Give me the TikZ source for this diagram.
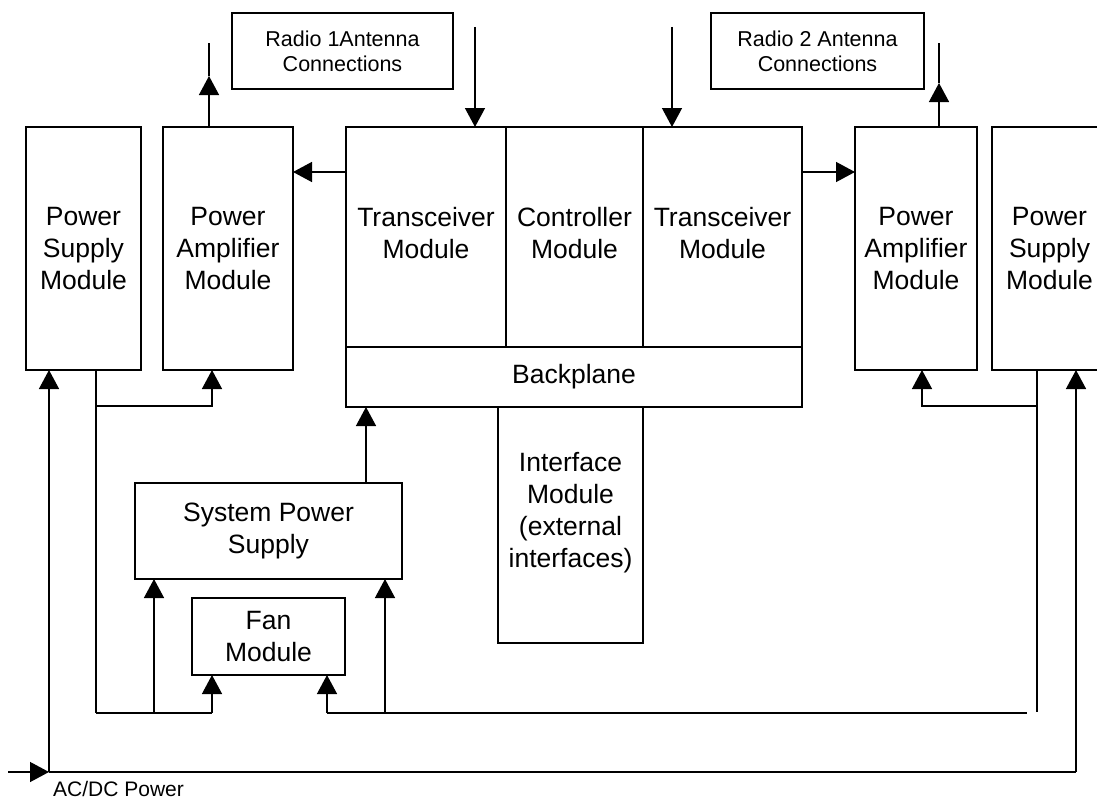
\documentclass[tikz,border=0pt]{standalone}
\usepackage{fontspec}
\setmainfont{Liberation Sans}
\usetikzlibrary{arrows.meta}
\begin{document}
\begin{tikzpicture}[x=1pt,y=-1pt,
  box/.style={draw,line width=1.4pt,rectangle,inner sep=0pt,outer sep=0pt,align=center,
    font=\fontsize{26.5}{32}\selectfont},
  txt/.style={inner sep=0pt,align=center,font=\fontsize{26.5}{32}\selectfont},
  smallbox/.style={box,font=\fontsize{21.5}{25}\selectfont},
  wire/.style={line width=1.4pt},
  arr/.style={wire,-{Triangle[width=20pt,length=19pt]}}]
\useasboundingbox (0,0) rectangle (1097,800);
% antenna label boxes
\node[smallbox,minimum width=221,minimum height=76] (r1) at (342.5,51) {Radio 1Antenna\\Connections};
\node[smallbox,minimum width=213,minimum height=76] (r2) at (817.5,51) {Radio 2 Antenna\\Connections};
% side modules
\node[box,minimum width=115,minimum height=243] (psuL) at (83.5,248.5) {Power\\Supply\\Module};
\node[box,minimum width=130,minimum height=243] (paL) at (228,248.5) {Power\\Amplifier\\Module};
\node[box,minimum width=122,minimum height=243] (paR) at (916,248.5) {Power\\Amplifier\\Module};
\node[box,minimum width=115,minimum height=243] (psuR) at (1049.5,248.5) {Power\\Supply\\Module};
% main chassis
\node[box,minimum width=160,minimum height=220] (trL) at (426,237) {};
\node[txt] (trLt) at (426,233) {Transceiver\\Module};
\node[box,minimum width=137,minimum height=220] (ctl) at (574.5,237) {};
\node[txt] (ctlt) at (574.5,233) {Controller\\Module};
\node[box,minimum width=159,minimum height=220] (trR) at (722.5,237) {};
\node[txt] (trRt) at (722.5,233) {Transceiver\\Module};
\node[box,minimum width=456,minimum height=60] (bp) at (574,377) {Backplane};
\node[box,minimum width=145,minimum height=236] (ifc) at (570.5,525) {};
\node[txt] (ifct) at (570.5,513) {Interface\\Module\\(external\\interfaces)};
% power
\node[box,minimum width=267,minimum height=96] (sps) at (268.5,531) {System Power\\Supply};
\node[box,minimum width=153,minimum height=77] (fan) at (268.5,636.5) {Fan\\Module};
\node[inner sep=0pt,anchor=base west,font=\fontsize{21}{25}\selectfont] (acdc) at (53,796) {AC/DC Power};
% coordinates
\coordinate (a1top) at (475,27);
\coordinate (a2top) at (672,27);
\coordinate (antL) at (209,43);
\coordinate (antLm) at (209,76);
\coordinate (antR) at (939,43);
\coordinate (antRm) at (939,83);
\coordinate (acin) at (8,772);
\coordinate (acj) at (49,772);
\coordinate (acr) at (1076,772);
\coordinate (lpsuj) at (96,406);
\coordinate (lbusL) at (96,713);
\coordinate (lbusR) at (212,713);
\coordinate (lbusM) at (154,713);
\coordinate (rbusL) at (327,713);
\coordinate (rbusM) at (385,713);
\coordinate (rbusR) at (1027,713);
\coordinate (rpsuj) at (1037,406);
\coordinate (rpsub) at (1037,712);
% signal connectors
\draw[arr] (trL.west |- 0,172) -- (paL.east |- 0,172);
\draw[arr] (trR.east |- 0,172) -- (paR.west |- 0,172);
\draw[arr] (a1top) -- (a1top |- trL.north);
\draw[arr] (a2top) -- (a2top |- trR.north);
\draw[arr] (antLm |- paL.north) -- (antLm);
\draw[wire] (antLm) -- (antL);
\draw[arr] (antRm |- paR.north) -- (antRm);
\draw[wire] (antRm) -- (antR);
% AC/DC feed
\draw[arr] (acin) -- (acj);
\draw[arr] (acj) -- (acj |- psuL.south);
\draw[wire] (acj) -- (acr);
\draw[arr] (acr) -- (acr |- psuR.south);
% left power supply distribution
\draw[wire] (lbusL |- psuL.south) -- (lbusL);
\draw[arr] (lpsuj) -| (paL.south -| lbusR);
\draw[wire] (lbusL) -- (lbusR);
\draw[arr] (lbusR) -- (lbusR |- fan.south);
\draw[arr] (lbusM) -- (lbusM |- sps.south);
% right power supply distribution
\draw[wire] (rpsuj |- psuR.south) -- (rpsub);
\draw[arr] (rpsuj) -| (paR.south -| 922,0);
\draw[wire] (rbusL) -- (rbusR);
\draw[arr] (rbusL) -- (rbusL |- fan.south);
\draw[arr] (rbusM) -- (rbusM |- sps.south);
% system power to backplane
\draw[arr] (sps.north -| 366,0) -- (bp.south -| 366,0);
\end{tikzpicture}
\end{document}
